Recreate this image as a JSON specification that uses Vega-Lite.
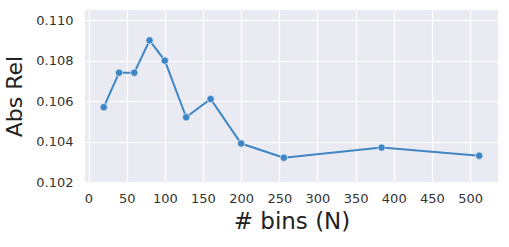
{
  "$schema": "https://vega.github.io/schema/vega-lite/v6.json",
  "width": 413,
  "height": 172,
  "autosize": {"type": "none"},
  "padding": {"left": 85, "top": 10, "right": 11, "bottom": 65},
  "background": "white",
  "config": {
    "view": {"fill": "#EAEAF2", "stroke": null},
    "font": "DejaVu Sans",
    "axis": {
      "domain": false,
      "ticks": false,
      "gridColor": "white",
      "gridWidth": 1.2,
      "labelColor": "#333333",
      "labelFontSize": 13,
      "titleColor": "#222222",
      "titleFontWeight": "normal"
    }
  },
  "data": {
    "values": [
      {"bins": 20, "absrel": 0.1057},
      {"bins": 40, "absrel": 0.1074},
      {"bins": 60, "absrel": 0.1074},
      {"bins": 80, "absrel": 0.1090},
      {"bins": 100, "absrel": 0.1080},
      {"bins": 128, "absrel": 0.1052},
      {"bins": 160, "absrel": 0.1061},
      {"bins": 200, "absrel": 0.1039},
      {"bins": 256, "absrel": 0.1032},
      {"bins": 384, "absrel": 0.1037},
      {"bins": 512, "absrel": 0.1033}
    ]
  },
  "encoding": {
    "x": {
      "field": "bins",
      "type": "quantitative",
      "title": "# bins (N)",
      "scale": {"domain": [-4.6, 536.6], "nice": false, "zero": false},
      "axis": {"values": [0, 50, 100, 150, 200, 250, 300, 350, 400, 450, 500], "labelPadding": 10, "titlePadding": 5, "titleFontSize": 23}
    },
    "y": {
      "field": "absrel",
      "type": "quantitative",
      "title": "Abs Rel",
      "scale": {"domain": [0.102, 0.1105], "nice": false, "zero": false},
      "axis": {"values": [0.102, 0.104, 0.106, 0.108, 0.110], "format": ".3f", "labelPadding": 12, "titlePadding": 9, "titleFontSize": 22}
    }
  },
  "layer": [
    {"mark": {"type": "line", "color": "#3F86C4", "strokeWidth": 2}},
    {"mark": {"type": "point", "filled": true, "color": "#3F86C4", "size": 55, "opacity": 1, "stroke": "white", "strokeWidth": 0.6}}
  ]
}
